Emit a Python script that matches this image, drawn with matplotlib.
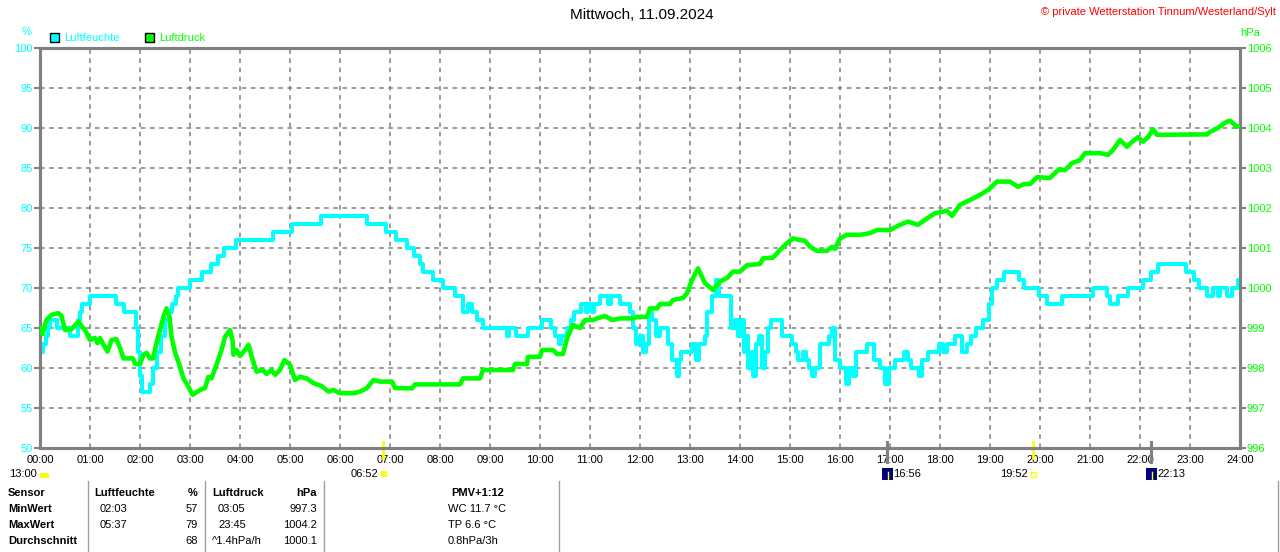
import matplotlib
matplotlib.use("Agg")
import matplotlib.pyplot as plt
from matplotlib.patches import Rectangle
from matplotlib.lines import Line2D

plt.rcParams['font.family'] = ['Liberation Sans', 'DejaVu Sans']

# Luftfeuchte (%), Stufen: Stunde -> Wert
hum_hours = [0.00, 0.06, 0.12, 0.16, 0.20, 0.34, 0.60, 0.76, 0.80, 0.84, 1.00, 1.52, 1.68, 1.92, 1.96,
             2.00, 2.04, 2.20, 2.26, 2.34, 2.42, 2.50, 2.58, 2.64, 2.72, 2.76, 3.00, 3.24, 3.42, 3.56,
             3.68, 3.92, 4.66, 5.04, 5.62, 6.54, 6.92, 7.12, 7.34, 7.48, 7.60, 7.66, 7.86, 8.06, 8.30,
             8.46, 8.56, 8.64, 8.74, 8.86, 9.34, 9.38, 9.52, 9.76, 10.04, 10.22, 10.30, 10.38, 10.42,
             10.54, 10.62, 10.68, 10.82, 10.92, 10.96, 11.04, 11.08, 11.20, 11.36, 11.42, 11.60, 11.80,
             11.86, 11.92, 12.00, 12.06, 12.12, 12.18, 12.24, 12.32, 12.40, 12.56, 12.64, 12.74, 12.78,
             12.82, 13.04, 13.12, 13.18, 13.30, 13.34, 13.44, 13.52, 13.58, 13.82, 13.90, 13.96, 14.02,
             14.08, 14.12, 14.16, 14.22, 14.26, 14.32, 14.38, 14.44, 14.50, 14.56, 14.62, 14.84, 15.04,
             15.12, 15.16, 15.26, 15.32, 15.38, 15.44, 15.50, 15.60, 15.78, 15.84, 15.90, 16.00, 16.12,
             16.18, 16.26, 16.32, 16.54, 16.68, 16.80, 16.90, 16.98, 17.10, 17.28, 17.36, 17.42, 17.58,
             17.64, 17.76, 17.98, 18.06, 18.14, 18.30, 18.44, 18.54, 18.62, 18.72, 18.86, 18.98, 19.04,
             19.14, 19.28, 19.58, 19.68, 19.98, 20.14, 20.44, 21.06, 21.34, 21.40, 21.56, 21.76, 22.06,
             22.22, 22.36, 22.92, 23.08, 23.18, 23.34, 23.46, 23.56, 23.60, 23.74, 23.84, 23.96, 24.00]
hum_values = [62, 63, 64, 65, 66, 65, 64, 66, 67, 68, 69, 68, 67, 65, 62,
              59, 57, 58, 60, 62, 64, 66, 67, 68, 69, 70, 71, 72, 73, 74,
              75, 76, 77, 78, 79, 78, 77, 76, 75, 74, 73, 72, 71, 70, 69,
              67, 68, 67, 66, 65, 64, 65, 64, 65, 66, 65, 64, 63, 64,
              65, 66, 67, 68, 67, 68, 67, 68, 69, 68, 69, 68, 67,
              65, 63, 64, 62, 63, 67, 66, 64, 65, 63, 61, 59, 61,
              62, 63, 61, 63, 64, 67, 69, 71, 69, 65, 66, 64, 66,
              62, 64, 60, 62, 59, 63, 64, 60, 62, 65, 66, 64, 63,
              62, 61, 62, 61, 60, 59, 60, 63, 64, 65, 61, 60, 58,
              60, 59, 62, 63, 61, 60, 58, 60, 61, 62, 61, 60, 59,
              61, 62, 63, 62, 63, 64, 62, 63, 64, 65, 66, 68, 70,
              71, 72, 71, 70, 69, 68, 69, 70, 69, 68, 69, 70, 71,
              72, 73, 72, 71, 70, 69, 70, 69, 70, 69, 70, 71, 71]

# Luftdruck (hPa)
pres_hours = [0.00, 0.05, 0.13, 0.23, 0.30, 0.37, 0.43, 0.50, 0.63, 0.77, 0.83, 0.90, 1.00, 1.10, 1.15,
              1.20, 1.27, 1.35, 1.43, 1.53, 1.60, 1.67, 1.86, 1.90, 2.00, 2.07, 2.13, 2.20, 2.26, 2.33,
              2.40, 2.47, 2.53, 2.59, 2.63, 2.70, 2.80, 2.87, 2.97, 3.05, 3.20, 3.30, 3.37, 3.43, 3.53,
              3.63, 3.70, 3.80, 3.85, 3.87, 3.93, 4.00, 4.10, 4.17, 4.23, 4.33, 4.46, 4.53, 4.63, 4.70,
              4.80, 4.89, 5.00, 5.10, 5.20, 5.33, 5.47, 5.63, 5.77, 5.87, 6.00, 6.27, 6.40, 6.53, 6.67,
              6.80, 7.04, 7.10, 7.44, 7.50, 8.40, 8.46, 8.80, 8.86, 9.46, 9.50, 9.74, 9.76, 10.00, 10.04,
              10.26, 10.34, 10.46, 10.54, 10.66, 10.80, 10.90, 11.06, 11.14, 11.30, 11.44, 11.60, 11.86,
              11.96, 12.14, 12.20, 12.34, 12.40, 12.60, 12.66, 12.86, 12.94, 13.04, 13.16, 13.30, 13.46,
              13.60, 13.74, 13.86, 14.00, 14.14, 14.40, 14.46, 14.66, 14.80, 14.94, 15.06, 15.20, 15.30,
              15.40, 15.54, 15.74, 15.84, 15.90, 16.00, 16.14, 16.40, 16.60, 16.74, 17.00, 17.20, 17.36,
              17.56, 17.74, 17.90, 18.14, 18.24, 18.40, 18.60, 18.80, 18.96, 19.14, 19.40, 19.56, 19.68,
              19.80, 19.94, 20.20, 20.36, 20.50, 20.64, 20.80, 20.90, 21.20, 21.36, 21.46, 21.60, 21.74,
              21.84, 21.96, 22.06, 22.16, 22.26, 22.34, 23.34, 23.40, 23.54, 23.74, 23.80, 23.94, 24.00]
pres_values = [999.0, 998.85, 999.2, 999.33, 999.35, 999.37, 999.3, 998.95, 998.97, 999.16, 999.05, 998.95,
               998.7, 998.75, 998.62, 998.75, 998.58, 998.41, 998.7, 998.72, 998.5, 998.24, 998.24, 998.1,
               998.1, 998.33, 998.38, 998.24, 998.24, 998.62, 998.95, 999.28, 999.49, 999.28, 998.78,
               998.4, 998.03, 997.74, 997.53, 997.33, 997.45, 997.5, 997.78, 997.74, 998.08, 998.45,
               998.78, 998.95, 998.7, 998.33, 998.45, 998.3, 998.45, 998.58, 998.3, 997.91, 997.95,
               997.85, 997.95, 997.83, 997.95, 998.2, 998.08, 997.7, 997.78, 997.74, 997.62, 997.55,
               997.41, 997.45, 997.37, 997.37, 997.41, 997.49, 997.7, 997.66, 997.66, 997.5, 997.49,
               997.59, 997.59, 997.74, 997.74, 997.95, 997.95, 998.1, 998.1, 998.28, 998.28, 998.45,
               998.45, 998.35, 998.35, 998.74, 999.08, 999.0, 999.2, 999.2, 999.24, 999.3, 999.2, 999.24,
               999.24, 999.28, 999.28, 999.49, 999.49, 999.6, 999.6, 999.7, 999.75, 999.87, 1000.2,
               1000.49, 1000.12, 999.95, 1000.16, 1000.25, 1000.41, 1000.41, 1000.57, 1000.6, 1000.74,
               1000.76, 1000.95, 1001.12, 1001.24, 1001.2, 1001.18, 1001.03, 1000.93, 1000.93, 1001.03,
               1000.98, 1001.24, 1001.33, 1001.33, 1001.37, 1001.45, 1001.45, 1001.58, 1001.66, 1001.58,
               1001.74, 1001.87, 1001.93, 1001.8, 1002.08, 1002.2, 1002.33, 1002.45, 1002.66, 1002.66,
               1002.53, 1002.6, 1002.6, 1002.77, 1002.75, 1002.95, 1002.95, 1003.12, 1003.2, 1003.37,
               1003.37, 1003.33, 1003.45, 1003.7, 1003.53, 1003.65, 1003.77, 1003.66, 1003.77, 1003.97,
               1003.83, 1003.84, 1003.9, 1003.99, 1004.16, 1004.18, 1004.03, 1004.06]

hour_labels = [f"{h:02d}:00" for h in range(25)]
sun_rise, sun_set = 6 + 52 / 60, 19 + 52 / 60
moon_rise, moon_set = 16 + 56 / 60, 22 + 13 / 60

table_rows = [
    ["Sensor", "Luftfeuchte", "%", "Luftdruck", "hPa", "PMV+1:12"],
    ["MinWert", "02:03", "57", "03:05", "997.3", "WC 11.7 °C"],
    ["MaxWert", "05:37", "79", "23:45", "1004.2", "TP 6.6 °C"],
    ["Durchschnitt", "", "68", "^1.4hPa/h", "1000.1", "0.8hPa/3h"],
]

CYAN = "#00ffff"
GREEN = "#00ff00"
GRAY = "#808080"
W, H = 1280, 552

fig = plt.figure(figsize=(W / 100, H / 100), dpi=100)


def px(x, y):
    return x / W, 1 - y / H


ax = fig.add_axes([40 / W, 1 - 448 / H, 1200 / W, 400 / H])
ax2 = ax.twinx()

ax.step(hum_hours, hum_values, where="post", color=CYAN, lw=2.9, zorder=3)
ax2.plot(pres_hours, pres_values, color=GREEN, lw=3.3, zorder=3)

ax.set_xlim(0, 24)
ax.set_ylim(50, 100)
ax2.set_ylim(996, 1006)
ax.set_xticks(range(25))
ax.set_xticklabels(hour_labels)
ax.set_yticks(range(50, 101, 5))
ax2.set_yticks(range(996, 1007))

ax.grid(True, color=GRAY, ls=(0, (3, 3)), lw=1.1)
ax.tick_params(axis="x", length=0, pad=5, labelsize=8, labelcolor="black")
ax.tick_params(axis="y", length=4, width=1.5, color=GRAY, pad=1, labelsize=8, labelcolor=CYAN)
ax2.tick_params(axis="y", length=4, width=1.5, color=GRAY, pad=1, labelsize=8, labelcolor=GREEN)
for a in (ax, ax2):
    for s in a.spines.values():
        s.set_color(GRAY)
        s.set_linewidth(2.2)

# Sonnen- und Mondmarken an der Zeitachse
tr = ax.get_xaxis_transform()
for t in (sun_rise, sun_set):
    ax.add_line(Line2D([t, t], [0.015, -0.025], transform=tr, color="#ffff00", lw=2, clip_on=False, zorder=5))
for t in (moon_rise, moon_set):
    ax.add_line(Line2D([t, t], [0.015, -0.035], transform=tr, color=GRAY, lw=2.2, clip_on=False, zorder=5))

fig.text(*px(642, 15), "Mittwoch, 11.09.2024", ha="center", va="center", fontsize=11)
fig.text(*px(1276, 12), "© private Wetterstation Tinnum/Westerland/Sylt", ha="right", va="center",
         fontsize=8, color="#ff0000")
fig.text(*px(27, 32), "%", ha="center", va="center", fontsize=8, color=CYAN)
fig.text(*px(1250, 33), "hPa", ha="center", va="center", fontsize=8, color=GREEN)

# Legende
for x0, col, name in ((50, CYAN, "Luftfeuchte"), (145, GREEN, "Luftdruck")):
    fig.patches.append(Rectangle(px(x0, 42), 9 / W, 9 / H, transform=fig.transFigure,
                                 facecolor=col, edgecolor="black", lw=1))
    fig.text(*px(x0 + 14, 38), name, ha="left", va="center", fontsize=8, color=col)

# Zeiten unter der Achse
fig.text(*px(37, 474), "13:00", ha="right", va="center", fontsize=8)
fig.patches.append(Rectangle(px(40, 478), 9 / W, 5 / H, transform=fig.transFigure, facecolor="#ffff00", lw=0))
fig.text(*px(378, 474), "06:52", ha="right", va="center", fontsize=8)
fig.patches.append(Rectangle(px(381, 477), 6 / W, 6 / H, transform=fig.transFigure, facecolor="#ffff00", lw=0))
fig.text(*px(1028, 474), "19:52", ha="right", va="center", fontsize=8)
fig.patches.append(Rectangle(px(1031, 477), 5 / W, 5 / H, transform=fig.transFigure, facecolor="white",
                             edgecolor="#ffff00", lw=1))
for bx, tx, label in ((882, 893, "16:56"), (1146, 1157, "22:13")):
    fig.patches.append(Rectangle(px(bx, 480), 11 / W, 12 / H, transform=fig.transFigure,
                                 facecolor="#000080", lw=0))
    fig.add_artist(Line2D([(bx + 6) / W] * 2, [1 - 479 / H, 1 - 472 / H], transform=fig.transFigure,
                          color="#ffff00", lw=1))
    fig.text(*px(tx, 474), label, ha="left", va="center", fontsize=8)

# Tabelle
for xl in (88, 205, 324, 559, 1278):
    fig.add_artist(Line2D([xl / W, xl / W], [1 - 481 / H, 0], transform=fig.transFigure, color="#a0a0a0", lw=1))
cols = [(8, "left"), (100, "left"), (198, "right"), (218, "left"), (317, "right"), (448, "left")]
row_y = [493, 509, 525, 541]
for r, row in enumerate(table_rows):
    for c, txt in enumerate(row):
        x, ha = cols[c]
        if r == 0 and c in (1, 3):
            x -= 6
        if r == 3 and c == 3:
            x = 212
        if r == 0 and c == 5:
            x, ha = 478, "center"
        bold = r == 0 or c == 0
        fig.text(*px(x, row_y[r]), txt, ha=ha, va="center", fontsize=8,
                 fontweight="bold" if bold else "normal")

fig.savefig("out.png", dpi=100)
